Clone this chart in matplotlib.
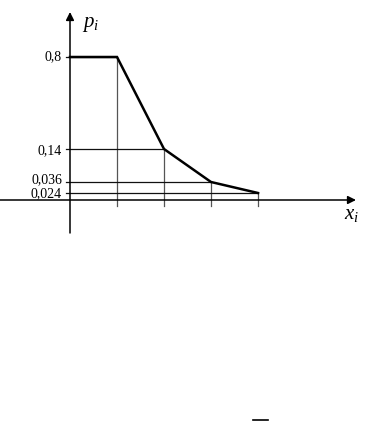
import numpy as np
import matplotlib
matplotlib.use("Agg")
import matplotlib.pyplot as plt
from matplotlib.lines import Line2D

# data
x_vals = [1, 2, 3, 4]
p_vals = [0.8, 0.14, 0.036, 0.024]
p_labels = ["0,8", "0,14", "0,036", "0,024"]

plt.rcParams["mathtext.fontset"] = "custom"
plt.rcParams["mathtext.rm"] = "Liberation Serif"
plt.rcParams["mathtext.it"] = "Liberation Serif:italic"
plt.rcParams["font.family"] = "Liberation Serif"

# schematic (non-linear) vertical scale as drawn in the original
knot_v = np.array([-1.0, 0.0, 0.024, 0.036, 0.14, 0.8, 1.5])
knot_h = np.array([-291.7, 0.0, 7.0, 18.0, 51.0, 143.0, 240.6])


def fwd(v):
    return np.interp(v, knot_v, knot_h)


def inv(h):
    return np.interp(h, knot_h, knot_v)


fig = plt.figure(figsize=(3.67, 4.21), dpi=100)
ax = fig.add_axes([0, 0, 1, 1])
ax.set_yscale("function", functions=(fwd, inv))
ax.set_xlim(-70 / 47, (367 - 70) / 47)
ax.set_ylim(inv(-221), inv(200))
ax.axis("off")

# axes with arrows
ax.annotate("", xy=(6.085, 0), xytext=(-1.489, 0),
            arrowprops=dict(arrowstyle="-|>", lw=1.1, color="black",
                            mutation_scale=12, shrinkA=0, shrinkB=0))
ax.annotate("", xy=(0, inv(188)), xytext=(0, inv(-33)),
            arrowprops=dict(arrowstyle="-|>", lw=1.1, color="black",
                            mutation_scale=12, shrinkA=0, shrinkB=0))

# guide lines and labels (small vertical nudges keep the two low labels apart)
nudge = [0, -1, 1.5, -0.5]
for xv, pv, lab, dy in zip(x_vals, p_vals, p_labels, nudge):
    ax.plot([-0.085, xv], [pv, pv], color="#111111", lw=0.9)
    ax.plot([xv, xv], [pv, inv(-6)], color="#555555", lw=0.9)
    ax.annotate(lab, xy=(-0.17, pv), xytext=(0, dy), textcoords="offset points",
                ha="right", va="center", fontsize=10)

# polygon of distribution
ax.plot([0] + x_vals, [p_vals[0]] + p_vals, color="black", lw=1.8,
        solid_joinstyle="miter")

ax.text(0.25, inv(175), "$p_i$", fontsize=15, ha="left", va="center")
ax.text(6.0, inv(-14), "$x_i$", fontsize=15, ha="center", va="center")

fig.add_artist(Line2D([253 / 367, 268 / 367], [1 / 421, 1 / 421],
                      color="black", lw=1.2))

fig.savefig("out.png", dpi=100, facecolor="white")
